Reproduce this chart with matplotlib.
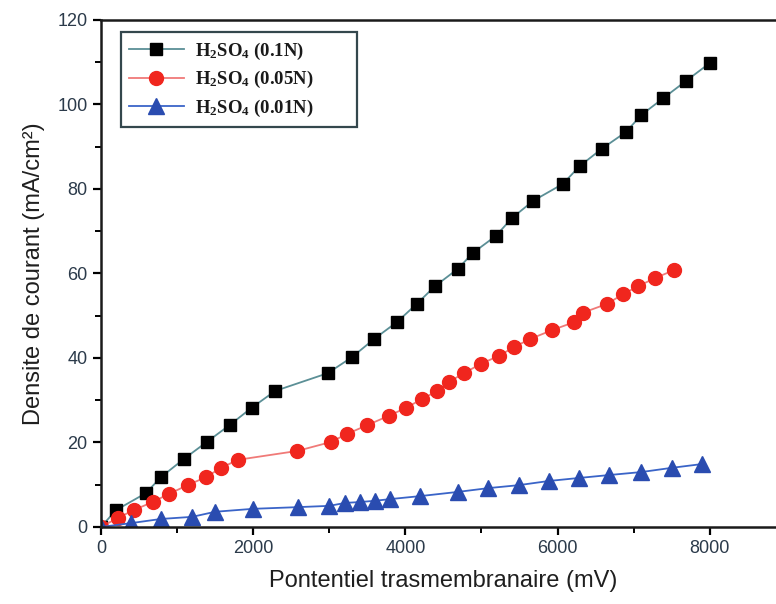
import matplotlib
matplotlib.use("Agg")
import matplotlib.pyplot as plt
import numpy as np

plt.rcParams['font.family'] = ['Liberation Sans', 'DejaVu Sans']
plt.rcParams['mathtext.fontset'] = 'custom'
plt.rcParams['mathtext.rm'] = 'Liberation Serif:bold'
plt.rcParams['mathtext.it'] = 'Liberation Serif:bold'
plt.rcParams['mathtext.bf'] = 'Liberation Serif:bold'

# H2SO4 0.1N
x_01 = [0, 200, 590, 790, 1090, 1390, 1690, 1980, 2290, 2980, 3300, 3590, 3890, 4150,
        4390, 4690, 4890, 5190, 5400, 5680, 6070, 6290, 6580, 6900, 7100, 7390, 7690, 8000]
y_01 = [0, 4.0, 8.0, 11.8, 16.1, 20.1, 24.1, 28.2, 32.2, 36.4, 40.2, 44.5, 48.5, 52.8,
        57.0, 61.1, 64.9, 68.9, 73.1, 77.2, 81.2, 85.4, 89.5, 93.5, 97.5, 101.5, 105.6, 109.8]

# H2SO4 0.05N
x_005 = [0, 220, 430, 680, 890, 1140, 1380, 1580, 1800, 2580, 3020, 3230, 3500, 3780, 4010,
         4220, 4420, 4570, 4770, 4990, 5230, 5430, 5640, 5930, 6220, 6330, 6650, 6860, 7060,
         7280, 7530]
y_005 = [0, 2.1, 4.0, 5.9, 7.8, 9.9, 11.8, 14.0, 15.9, 18.0, 20.1, 22.0, 24.1, 26.3, 28.2,
         30.3, 32.2, 34.3, 36.4, 38.6, 40.5, 42.6, 44.5, 46.6, 48.5, 50.7, 52.8, 55.1, 57.0,
         58.9, 60.8]

# H2SO4 0.01N
x_001 = [0, 390, 790, 1200, 1500, 2000, 2590, 3000, 3210, 3400, 3600, 3800, 4190, 4690,
         5090, 5490, 5890, 6280, 6680, 7100, 7500, 7900]
y_001 = [0, 0.9, 1.9, 2.4, 3.6, 4.3, 4.7, 5.0, 5.7, 5.9, 6.2, 6.6, 7.3, 8.3,
         9.2, 9.9, 10.9, 11.6, 12.3, 13.0, 14.0, 14.9]

labels = [r'H$_2$SO$_4$ (0.1N)', r'H$_2$SO$_4$ (0.05N)', r'H$_2$SO$_4$ (0.01N)']

fig = plt.figure(figsize=(7.76, 6.04), dpi=100)
ax = fig.add_axes([0.130, 0.1275, 0.8827, 0.8394])

ax.plot(x_01, y_01, color='#5b8f96', lw=1.3, marker='s', ms=9,
        mfc='black', mec='black', label=labels[0])
ax.plot(x_005, y_005, color='#f07a78', lw=1.3, marker='o', ms=10,
        mfc='#f0261e', mec='#f0261e', label=labels[1])
ax.plot(x_001, y_001, color='#3a64c8', lw=1.3, marker='^', ms=11,
        mfc='#2a4cb0', mec='#2a4cb0', label=labels[2])

ax.set_xlim(0, 9000)
ax.set_ylim(0, 120)
ax.set_xticks([0, 2000, 4000, 6000, 8000])
ax.set_xticks(np.arange(1000, 9000, 2000), minor=True)
ax.set_yticks(np.arange(0, 121, 20))
ax.set_yticks(np.arange(10, 120, 20), minor=True)

for s in ax.spines.values():
    s.set_linewidth(1.8)
    s.set_color('#1a1a1a')
ax.tick_params(which='major', direction='out', length=6, width=1.6,
               labelsize=13, labelcolor='#2b3a4a', top=False, right=False)
ax.tick_params(which='minor', direction='out', length=4, width=1.4,
               top=False, right=False)

ax.set_xlabel('Pontentiel trasmembranaire (mV)', fontsize=17, color='#1f1f1f', labelpad=9)
ax.set_ylabel('Densite de courant (mA/cm²)', fontsize=17, color='#1f1f1f', labelpad=9)

leg = ax.legend(loc='upper left', bbox_to_anchor=(0.029, 0.976, 0.345, 0.0),
                mode='expand', borderaxespad=0,
                prop={'family': 'Liberation Serif', 'weight': 'bold', 'size': 13.5},
                handlelength=2.9, labelspacing=0.4, fancybox=False,
                framealpha=1, borderpad=0.45, handletextpad=0.6)
leg.get_frame().set_edgecolor('#34474d')
leg.get_frame().set_linewidth(1.6)
for t in leg.get_texts():
    t.set_color('#1a1a1a')

fig.savefig('out.png', dpi=100)
